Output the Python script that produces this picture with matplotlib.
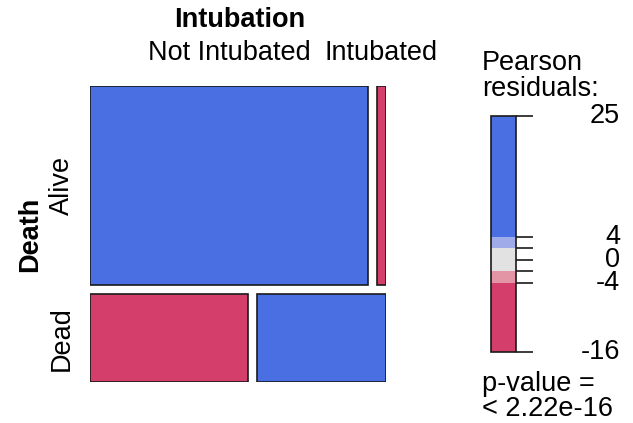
import numpy as np
import matplotlib
matplotlib.use("Agg")
import matplotlib.pyplot as plt
from matplotlib.patches import Rectangle

plt.rcParams['font.family'] = ['Liberation Sans', 'DejaVu Sans']

# ---- data ----
death_levels = ["Alive", "Dead"]
intubation_levels = ["Not Intubated", "Intubated"]
counts_alive = [2584, 83]     # Not Intubated, Intubated
counts_dead = [643, 527]
legend_ticks = [25, 4, 2, 0, -2, -4, -16]
legend_labels = ["25", "4", "0", "-4", "-16"]
legend_label_vals = [25, 4, 0, -4, -16]
pvalue_text = "p-value =\n< 2.22e-16"

table = np.array([counts_alive, counts_dead], dtype=float)
N = table.sum()
expected = np.outer(table.sum(1), table.sum(0)) / N
resid = (table - expected) / np.sqrt(expected)

BLUE = "#4A6FE3"
LBLUE = "#A0ACEA"
GREY = "#E2E2E2"
LRED = "#E495A5"
RED = "#D33F6A"

def shade(r):
    if r > 4:
        return BLUE
    if r > 2:
        return LBLUE
    if r >= -2:
        return GREY
    if r >= -4:
        return LRED
    return RED

W, H = 633, 423
fig = plt.figure(figsize=(W / 100, H / 100), dpi=100)

def fbox(x0, y0, x1, y1):
    return [x0 / W, 1 - y1 / H, (x1 - x0) / W, (y1 - y0) / H]

# ---- mosaic ----
gap = 9 / 287
ax = fig.add_axes(fbox(90, 86, 386, 382))
ax.set_xlim(0, 1 + gap)
ax.set_ylim(0, 1 + gap)
ax.axis('off')

row_props = table.sum(1) / N
# Alive on top
y_top = 1 + gap
for i, lev in enumerate(death_levels):
    h = row_props[i]
    y0 = y_top - h
    col_props = table[i] / table[i].sum()
    x = 0
    for j in range(2):
        w = col_props[j]
        ax.add_patch(Rectangle((x, y0), w, h, facecolor=shade(resid[i, j]),
                               edgecolor="#1a1a1a", linewidth=1.2))
        x += w + gap
    y_top = y0 - gap

# ---- labels ----
FS = 19.5
fig.text(240 / W, 1 - 20 / H, "Intubation", fontsize=FS, fontweight='bold',
         ha='center', va='center')
col_a = table[0] / table[0].sum()
px_per = 287
fig.text((90 + col_a[0] * px_per / 2) / W, 1 - 53 / H, intubation_levels[0],
         fontsize=FS, ha='center', va='center')
fig.text((90 + col_a[0] * px_per + 9 + col_a[1] * px_per / 2) / W, 1 - 53 / H,
         intubation_levels[1], fontsize=FS, ha='center', va='center')

fig.text(30 / W, 1 - 234 / H, "Death", fontsize=FS, fontweight='bold',
         rotation=90, ha='center', va='center')
alive_h = row_props[0] * px_per
fig.text(62 / W, 1 - (86 + alive_h / 2) / H, death_levels[0], fontsize=FS,
         rotation=90, ha='center', va='center')
fig.text(62 / W, 1 - (86 + alive_h + 9 + row_props[1] * px_per / 2) / H,
         death_levels[1], fontsize=FS, rotation=90, ha='center', va='center')

# ---- legend ----
lmin, lmax = -16, 25
lax = fig.add_axes(fbox(491, 116, 533, 352))
lax.set_xlim(0, 42)
lax.set_ylim(lmin, lmax)
lax.axis('off')
bands = [(4, lmax, BLUE), (2, 4, LBLUE), (-2, 2, GREY), (-4, -2, LRED), (lmin, -4, RED)]
for lo, hi, c in bands:
    lax.add_patch(Rectangle((0, lo), 25, hi - lo, facecolor=c, edgecolor='none'))
lax.add_patch(Rectangle((0, lmin), 25, lmax - lmin, facecolor='none',
                        edgecolor='#1a1a1a', linewidth=1.2, clip_on=False))
for t in legend_ticks:
    lax.plot([25, 42], [t, t], color='#1a1a1a', linewidth=1.2, clip_on=False,
             solid_capstyle='butt')

tax = fig.add_axes(fbox(533, 116, 620, 352))
tax.set_xlim(0, 1)
tax.set_ylim(lmin, lmax)
tax.axis('off')
for v, s in zip(legend_label_vals, legend_labels):
    tax.text(1, v, s, fontsize=FS, ha='right', va='center')

fig.text(482 / W, 1 - 76 / H, "Pearson\nresiduals:", fontsize=FS, ha='left',
         va='center', linespacing=0.95)
fig.text(482 / W, 1 - 396 / H, pvalue_text, fontsize=FS, ha='left',
         va='center', linespacing=0.95)

fig.savefig("out.png", dpi=100)
